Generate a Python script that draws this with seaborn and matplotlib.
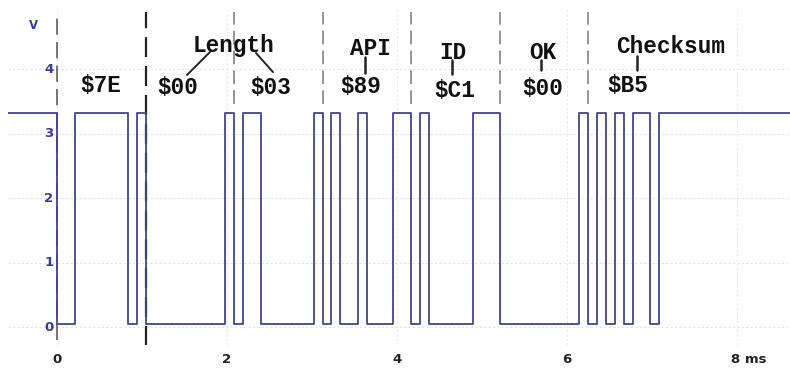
import matplotlib
matplotlib.use("Agg")
import matplotlib.pyplot as plt
import numpy as np
import pandas as pd
import seaborn as sns

# Serial frame captured on the scope: one API packet at 9600 baud, 8N1
frame_bytes = [0x7E, 0x00, 0x03, 0x89, 0xC1, 0x00, 0xB5]
byte_labels = ["$7E", "$00", "$03", "$89", "$C1", "$00", "$B5"]
baud_rate = 9600
v_high = 3.32
v_low = 0.04
x_ticks = [0, 2, 4, 6, 8]
y_ticks = [0, 1, 2, 3, 4]

sns.set_theme(style="white")
plt.rcParams["font.family"] = ["DejaVu Sans"]

bit_ms = 1000.0 / baud_rate
frame_ms = 10 * bit_ms

# Expand every byte into start bit, 8 data bits (LSB first) and stop bit
times = [-0.6]
levels = [v_high]
for k, b in enumerate(frame_bytes):
    t0 = k * frame_ms
    bits = [0] + [(b >> i) & 1 for i in range(8)] + [1]
    for i, bit in enumerate(bits):
        times.append(t0 + i * bit_ms)
        levels.append(v_high if bit else v_low)
times.append(8.7)
levels.append(v_high)
trace = pd.DataFrame({"t": times, "v": levels})

fig = plt.figure(figsize=(7.9, 3.7), dpi=100)
ax = fig.add_axes([8 / 790, 25 / 370, 782 / 790, 335 / 370])
ax.set_xlim(-0.5765, 8.6235)
ax.set_ylim(-0.279, 4.915)

# faint scope graticule
for yv in y_ticks:
    ax.axhline(yv, color="#e2e2ea", lw=0.8, ls=(0, (2, 2)), zorder=0)
for xv in x_ticks:
    ax.axvline(xv, color="#e8e8ee", lw=0.8, ls=(0, (2, 2)), zorder=0)
ax.axhline(-0.3, color="#e6e6e6", lw=0.8, zorder=0)

# voltage axis drawn as a dashed cursor at t = 0
ax.plot([0, 0], [-0.2, 4.88], color="#6a6a6a", lw=1.3, ls=(0, (9, 4)), zorder=1)

# byte boundaries
for k in range(1, len(frame_bytes)):
    xb = k * frame_ms
    if k == 1:
        ax.plot([xb, xb], [-0.3, 4.88], color="#222222", lw=1.6, ls=(0, (9, 4)), zorder=1)
    else:
        ax.plot([xb, xb], [3.45, 4.88], color="#777777", lw=1.1, ls=(0, (9, 4)), zorder=1)

sns.lineplot(data=trace, x="t", y="v", drawstyle="steps-post", estimator=None,
             sort=False, color="#43438f", lw=1.3, ax=ax, zorder=3)

for s in ax.spines.values():
    s.set_visible(False)
ax.set_xlabel("")
ax.set_ylabel("")
ax.set_xticks([])
ax.set_yticks([])

# tick labels
for xv in x_ticks:
    lab = str(xv)
    if xv == x_ticks[-1]:
        ax.text(xv - 0.07, -0.51, lab + " ms", ha="left", va="center",
                fontsize=9.5, fontweight="bold", color="#222222", clip_on=False)
    else:
        ax.text(xv, -0.51, lab, ha="center", va="center",
                fontsize=9.5, fontweight="bold", color="#222222", clip_on=False)
for yv in y_ticks:
    ax.text(-0.04, yv, str(yv), ha="right", va="center",
            fontsize=9.5, fontweight="bold", color="#3a3a9a")
ax.text(-0.28, 4.68, "V", ha="center", va="center", fontsize=8.5,
        fontweight="bold", color="#3a3a9a")

mono = dict(family=["Liberation Mono", "DejaVu Sans Mono"], fontsize=16.3,
            fontweight="bold", color="#111111")

# byte values
byte_pos = [(0.518, 3.74), (1.424, 3.71), (2.518, 3.71), (3.576, 3.725),
            (4.682, 3.66), (5.718, 3.70), (6.718, 3.74)]
for lab, (xp, yp) in zip(byte_labels, byte_pos):
    ax.text(xp, yp, lab, ha="center", va="center", **mono)

# field names with leader lines
ax.text(2.082, 4.36, "Length", ha="center", va="center", **mono)
ax.plot([1.80, 1.529], [4.264, 3.907], color="#222222", lw=1.4)
ax.plot([2.341, 2.541], [4.248, 3.953], color="#222222", lw=1.4)

ax.text(3.682, 4.32, "API", ha="center", va="center", **mono)
ax.plot([3.624, 3.624], [4.186, 3.938], color="#222222", lw=1.8)

ax.text(4.659, 4.25, "ID", ha="center", va="center", **mono)
ax.plot([4.647, 4.647], [4.14, 3.922], color="#222222", lw=1.8)

ax.text(5.718, 4.25, "OK", ha="center", va="center", **mono)
ax.plot([5.694, 5.694], [4.14, 3.984], color="#222222", lw=1.8)

ax.text(7.224, 4.35, "Checksum", ha="center", va="center", **mono)
ax.plot([6.824, 6.824], [4.20, 3.984], color="#222222", lw=1.8)

fig.savefig("out.png", dpi=100)
